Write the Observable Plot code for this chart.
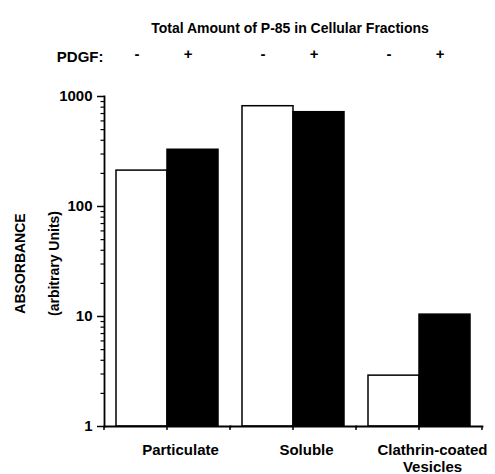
<!DOCTYPE html>
<html><head><meta charset="utf-8">
<script src="https://cdn.jsdelivr.net/npm/d3@7"></script>
<script src="https://cdn.jsdelivr.net/npm/@observablehq/plot@0.6"></script>
<style>body{margin:0;background:#fff;} svg{display:block}</style>
</head><body><div id="chart"></div>
<script>
const title = "Total Amount of P-85 in Cellular Fractions";
const fractions = ["Particulate", "Soluble", "Clathrin-coated\nVesicles"];
const pdgf = ["-", "+"];
const withoutPDGF = [212, 816, 2.9];
const withPDGF = [328, 720, 10.4];
const yTicks = [1, 10, 100, 1000];
const yLabel = "ABSORBANCE\n(arbitrary Units)";
const pdgfLabel = "PDGF:";

const data = fractions.flatMap((f, i) => [
  {fraction: f, pdgf: pdgf[0], value: withoutPDGF[i]},
  {fraction: f, pdgf: pdgf[1], value: withPDGF[i]}
]);
const minorTicks = [];
for (let e = 0; e < 3; e++) for (let m = 2; m <= 9; m++) minorTicks.push(m * 10 ** e);
const font = "'Liberation Sans', Arial, Helvetica, sans-serif";

const plot = Plot.plot({
  width: 495, height: 474,
  marginTop: 96, marginBottom: 48, marginLeft: 104, marginRight: 13,
  style: {fontFamily: font, fontWeight: "bold", color: "#000", background: "#fff"},
  fx: {domain: fractions, padding: 0},
  x: {domain: pdgf, paddingInner: 0, paddingOuter: 0.235, axis: null},
  y: {type: "log", domain: [1, 1000]},
  color: {domain: pdgf, range: ["#fff", "#000"]},
  marks: [
    Plot.barY(data, {fx: "fraction", x: "pdgf", y1: 1, y2: "value", fill: "pdgf", stroke: "#000", strokeWidth: 1.5}),
    Plot.frame({anchor: "bottom", strokeWidth: 1.8}),
    Plot.frame({anchor: "left", facetAnchor: "left", strokeWidth: 1.8}),
    Plot.axisY({ticks: minorTicks, tickSize: 3.5, tickFormat: () => "", label: null, strokeWidth: 1.2}),
    Plot.axisY({ticks: yTicks, tickSize: 7, tickPadding: 5, tickFormat: d => String(d), label: null, fontSize: 15, strokeWidth: 1.5}),
    Plot.axisFx({anchor: "bottom", tickSize: 0, tickPadding: 17, fontSize: 15, dx: 13, label: null, lineHeight: 1.1}),
    Plot.axisX({anchor: "top", tickSize: 0, tickPadding: 38, fontSize: 15, dx: -5, label: null}),
    Plot.text([{fraction: fractions[0], label: pdgfLabel}], {fx: "fraction", text: "label", frameAnchor: "top-left", textAnchor: "end", dx: -1, dy: -45, fontSize: 15}),
    Plot.text([{fraction: fractions[1], label: title}], {fx: "fraction", text: "label", frameAnchor: "top", dx: -3.5, dy: -73, fontSize: 14}),
    Plot.text([{fraction: fractions[0], label: yLabel}], {fx: "fraction", text: "label", frameAnchor: "left", textAnchor: "middle", rotate: -90, dx: -73, dy: 2, fontSize: 14, lineHeight: 2.4})
  ]
});

// x-axis tick marks at the category boundaries and midpoints, placed with Plot's fx and y scales
const fxs = plot.scale("fx"), ys = plot.scale("y");
const y0 = ys.apply(1);
const xs = [];
fractions.forEach((f, i) => {
  const a = fxs.apply(f);
  xs.push(a, a + fxs.bandwidth / 2);
  if (i === fractions.length - 1) xs.push(a + fxs.bandwidth);
});
d3.select(plot).append("g").attr("stroke", "#000").attr("stroke-width", 1.5)
  .selectAll("line").data(xs).join("line")
  .attr("x1", d => d).attr("x2", d => d).attr("y1", y0).attr("y2", y0 + 4);

document.getElementById("chart").append(plot);
</script>
</body></html>
